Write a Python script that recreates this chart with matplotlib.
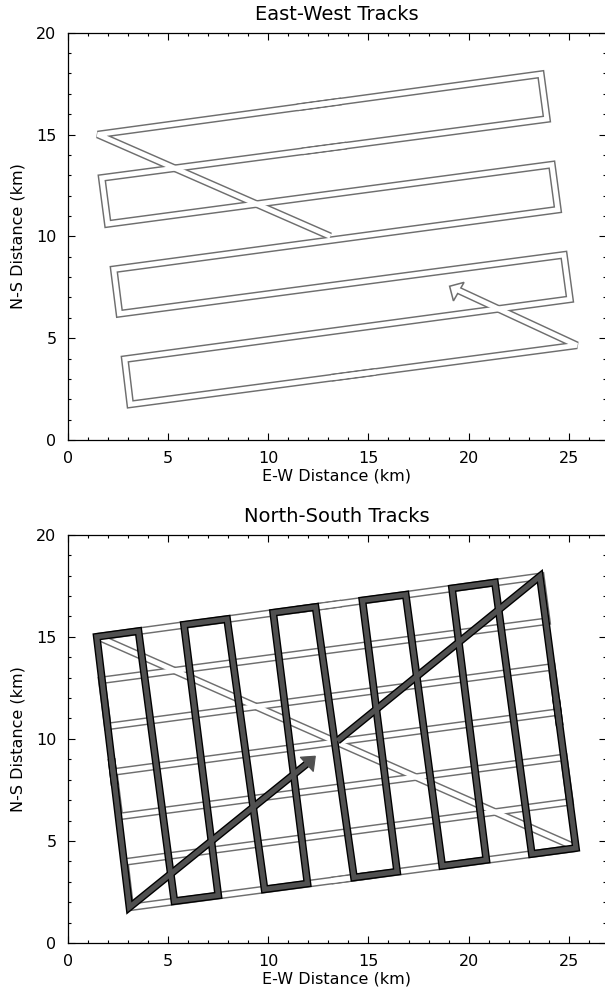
import matplotlib.pyplot as plt
from matplotlib.patches import Polygon
from matplotlib.ticker import MultipleLocator

plt.rcParams['font.family'] = ['DejaVu Sans']
plt.rcParams['font.size'] = 11.5

# East-West lawnmower pattern (km), corner points in flight order
ew_x = [1.50, 23.60, 23.90, 1.70, 2.00, 24.15, 24.45, 2.30, 2.58, 24.75, 25.05, 2.85, 3.12, 25.40]
ew_y = [15.00, 17.96, 15.76, 12.87, 10.61, 13.52, 11.31, 8.38, 6.20, 9.09, 6.91, 3.97, 1.75, 4.65]
# leg in from the centre and leg back out towards it
ew_start = (13.10, 10.00)
ew_end = (19.40, 7.39)
ew_head_x = [19.05, 19.77, 19.24]
ew_head_y = [7.55, 7.74, 6.83]

# North-South pattern (km), corner points in flight order
ns_x = [13.45, 23.55, 25.35, 23.15, 21.31, 19.17, 20.88, 18.68, 16.86, 14.70, 16.43, 14.28,
        12.36, 10.25, 11.96, 9.82, 7.95, 5.80, 7.51, 5.32, 3.53, 1.45, 3.08, 12.02]
ns_y = [9.90, 17.96, 4.65, 4.36, 17.66, 17.37, 4.07, 3.78, 17.06, 16.78, 3.49, 3.21,
        16.46, 16.18, 2.91, 2.63, 15.87, 15.59, 2.33, 2.05, 15.28, 15.00, 1.75, 8.85]
ns_head_x = [12.35, 11.60, 12.25]
ns_head_y = [9.15, 9.10, 8.40]

EW_GREY = '#6e6e6e'
NS_GREY = '#505050'


def lerp(p, q, f):
    return (p[0] + f * (q[0] - p[0]), p[1] + f * (q[1] - p[1]))


def split_path(x, y, cuts):
    # agg cancels a stroke where it crosses itself, so cut the path
    # in the middle of some straight legs (with a small overlap)
    pts = list(zip(x, y))
    out = []
    cur = [pts[0]]
    for i in range(1, len(pts)):
        if i - 1 in cuts:
            cur.append(lerp(pts[i - 1], pts[i], 0.55))
            out.append(cur)
            cur = [lerp(pts[i - 1], pts[i], 0.45)]
        cur.append(pts[i])
    out.append(cur)
    return out


def stroke(ax, pieces, joins, color, lw, z):
    for piece, js in zip(pieces, joins):
        xs, ys = zip(*piece)
        ax.plot(xs, ys, color=color, lw=lw, solid_joinstyle=js, solid_capstyle='butt', zorder=z)


def style_axes(ax, title):
    ax.set_xlim(0, 26.85)
    ax.set_ylim(0, 20)
    ax.xaxis.set_major_locator(MultipleLocator(5))
    ax.xaxis.set_minor_locator(MultipleLocator(1))
    ax.yaxis.set_major_locator(MultipleLocator(5))
    ax.yaxis.set_minor_locator(MultipleLocator(1))
    ax.tick_params(which='both', direction='in', top=True, right=True, width=0.8, colors='black')
    ax.tick_params(which='major', length=5, pad=8)
    ax.tick_params(which='minor', length=2.3)
    for s in ax.spines.values():
        s.set_linewidth(0.9)
    ax.set_title(title, fontsize=14, pad=9)
    ax.set_xlabel("E-W Distance (km)", labelpad=2)
    ax.set_ylabel("N-S Distance (km)", labelpad=8)


fig = plt.figure(figsize=(6.05, 9.97), dpi=100)
left = 67.7 / 605
width = (606 - 67.7) / 605
ax1 = fig.add_axes([left, (997 - 440) / 997, width, 407.3 / 997])
ax2 = fig.add_axes([left, (997 - 943) / 997, width, 408.3 / 997])

# --- top: East-West tracks ---
px = [ew_start[0]] + ew_x + [ew_end[0]]
py = [ew_start[1]] + ew_y + [ew_end[1]]
top_pieces = split_path(px, py, [1, 3, 13])
top_joins = ['bevel', 'miter', 'miter', 'bevel']
stroke(ax1, top_pieces, top_joins, EW_GREY, 5.6, 2)
ax1.add_patch(Polygon(list(zip(ew_head_x, ew_head_y)), closed=True, facecolor='white',
                      edgecolor=EW_GREY, lw=1.1, joinstyle='miter', zorder=3))
stroke(ax1, top_pieces, top_joins, 'white', 3.5, 4)
style_axes(ax1, "East-West Tracks")

# --- bottom: North-South tracks over the E-W lines ---
grid_pieces = split_path(ew_x + [ew_x[0]], ew_y + [ew_y[0]], [0, 12])
grid_joins = ['miter', 'miter', 'bevel']
stroke(ax2, grid_pieces, grid_joins, EW_GREY, 5.6, 2)
stroke(ax2, grid_pieces, grid_joins, 'white', 3.5, 3)

ns_pieces = split_path(ns_x, ns_y, [1, 21])
ns_joins = ['miter', 'miter', 'miter']
stroke(ax2, ns_pieces, ns_joins, 'black', 5.6, 5)
ax2.add_patch(Polygon(list(zip(ns_head_x, ns_head_y)), closed=True, facecolor=NS_GREY,
                      edgecolor=NS_GREY, lw=0.8, zorder=6))
stroke(ax2, ns_pieces, ns_joins, NS_GREY, 3.6, 7)
style_axes(ax2, "North-South Tracks")

fig.savefig("out.png", dpi=100)
